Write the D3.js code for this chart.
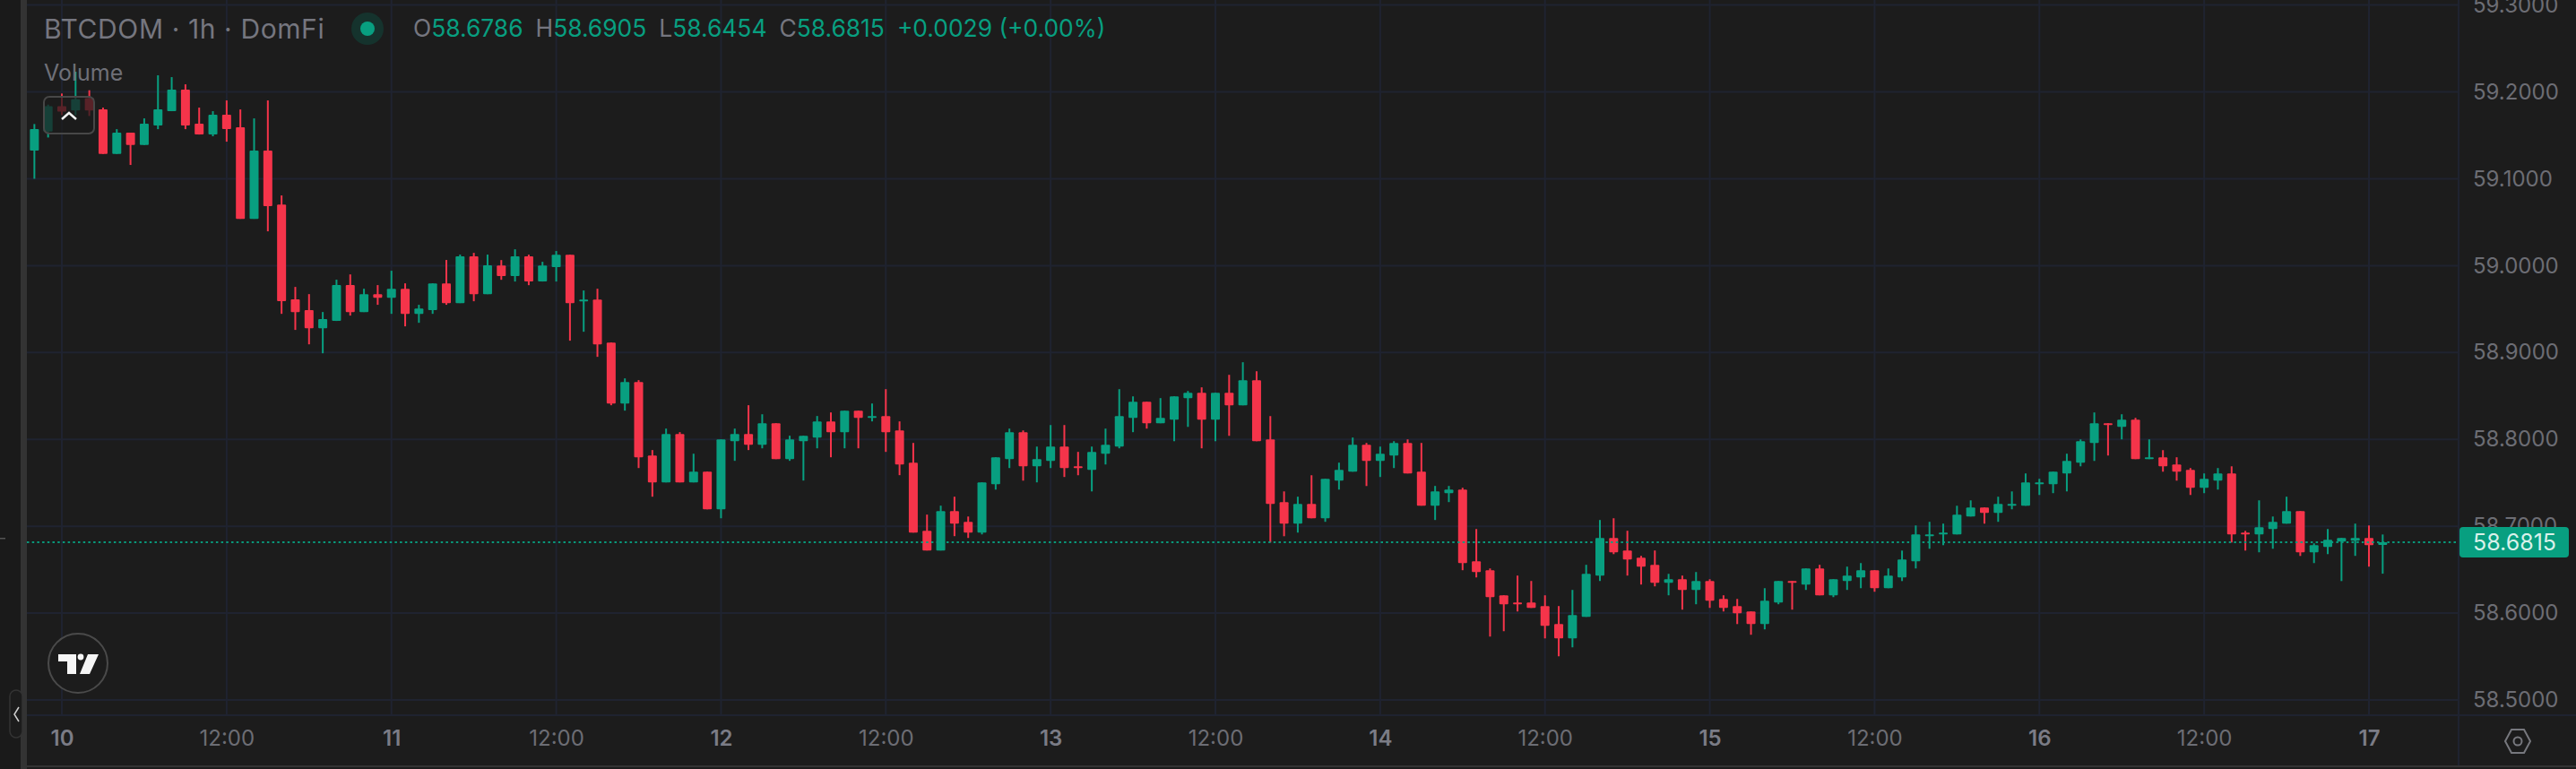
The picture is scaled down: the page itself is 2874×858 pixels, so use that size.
<!DOCTYPE html>
<html>
<head>
<meta charset="utf-8">
<script src="https://cdn.jsdelivr.net/npm/d3@7"></script>
<style>
html, body { margin: 0; padding: 0; background: #1c1c1c; overflow: hidden; }
svg { display: block; font-family: Inter, "Noto Sans", sans-serif; }
.axis .domain { display: none; }
.axis text { font-family: Inter, "Noto Sans", sans-serif; }
</style>
</head>
<body>
<svg width="2874" height="858"></svg>
<script>
// hourly candles, first one is 22:00 the day before the "10" tick
var opens = [
  59.1324,59.1544,59.1836,59.1785,59.1929,59.1798,59.1286,59.1530,59.1389,59.1613,
  59.1778,59.2025,59.1633,59.1509,59.1736,59.1592,59.0539,59.1324,59.0704,58.9611,
  58.9487,58.9280,58.9363,58.9776,58.9466,58.9672,58.9631,58.9734,58.9445,58.9487,
  58.9796,58.9569,59.0106,58.9672,59.0002,58.9879,59.0106,58.9817,58.9982,59.0126,
  58.9590,58.9610,58.9115,58.8413,58.8661,58.7815,58.7505,58.8062,58.7505,58.7629,
  58.7195,58.7980,58.8062,58.7938,58.8186,58.7773,58.7980,58.8021,58.8207,58.8083,
  58.8331,58.8248,58.8269,58.8104,58.7732,58.6948,58.6721,58.7175,58.7051,58.6927,
  58.7484,58.7773,58.8083,58.7690,58.7752,58.7917,58.7690,58.7649,58.7835,58.7917,
  58.8248,58.8433,58.8186,58.8227,58.8475,58.8537,58.8227,58.8537,58.8392,58.8681,
  58.8000,58.7278,58.7030,58.7257,58.7092,58.7525,58.7628,58.7938,58.7752,58.7814,
  58.7959,58.7629,58.7237,58.7381,58.7422,58.6597,58.6494,58.6205,58.6122,58.6122,
  58.6081,58.5874,58.5709,58.5957,58.6432,58.6865,58.6721,58.6638,58.6556,58.6349,
  58.6390,58.6267,58.6370,58.6163,58.6081,58.6019,58.5874,58.6122,58.6370,58.6329,
  58.6514,58.6205,58.6370,58.6411,58.6494,58.6287,58.6411,58.6596,58.6885,58.6906,
  58.6906,58.7112,58.7216,58.7154,58.7236,58.7236,58.7484,58.7484,58.7608,58.7732,
  58.7959,58.8186,58.8144,58.8227,58.7773,58.7794,58.7711,58.7649,58.7443,58.7525,
  58.7608,58.6927,58.6906,58.6968,58.7030,58.7174,58.6700,58.6762,58.6824,58.6834,58.6865,58.6786
];
var highs = [
  59.1630,59.1853,59.1981,59.2232,59.2019,59.1819,59.1571,59.1530,59.1695,59.2191,
  59.2170,59.2087,59.1819,59.1778,59.1902,59.1798,59.1695,59.1902,59.0808,58.9755,
  58.9672,58.9466,58.9838,58.9899,58.9734,58.9776,58.9941,58.9796,58.9549,58.9796,
  59.0065,59.0127,59.0147,59.0127,59.0064,59.0188,59.0126,59.0044,59.0168,59.0126,
  58.9714,58.9734,58.9115,58.8702,58.8682,58.7877,58.8124,58.8083,58.7835,58.7629,
  58.8000,58.8124,58.8393,58.8289,58.8186,58.8042,58.8042,58.8269,58.8310,58.8331,
  58.8331,58.8413,58.8578,58.8207,58.7959,58.7134,58.7237,58.7340,58.7112,58.7505,
  58.7794,58.8124,58.8103,58.7917,58.8165,58.8165,58.7856,58.7917,58.8124,58.8578,
  58.8495,58.8433,58.8475,58.8495,58.8557,58.8599,58.8537,58.8743,58.8888,58.8784,
  58.8268,58.7401,58.7340,58.7587,58.7546,58.7732,58.8021,58.7959,58.7917,58.7979,
  58.8000,58.7959,58.7464,58.7464,58.7443,58.6968,58.6514,58.6205,58.6432,58.6370,
  58.6205,58.6081,58.6267,58.6556,58.7072,58.7092,58.6948,58.6659,58.6721,58.6452,
  58.6432,58.6473,58.6390,58.6205,58.6163,58.6019,58.6287,58.6370,58.6370,58.6514,
  58.6556,58.6390,58.6535,58.6576,58.6494,58.6514,58.6720,58.7009,58.7051,58.7030,
  58.7236,58.7298,58.7216,58.7340,58.7401,58.7608,58.7546,58.7628,58.7835,58.8000,
  58.8310,58.8186,58.8289,58.8248,58.8000,58.7876,58.7794,58.7670,58.7608,58.7670,
  58.7690,58.6947,58.7298,58.7112,58.7340,58.7174,58.6803,58.6968,58.6865,58.7030,58.7009,58.6905
];
var lows = [
  59.1000,59.1475,59.1733,59.1733,59.1723,59.1286,59.1286,59.1159,59.1389,59.1571,
  59.1778,59.1571,59.1509,59.1489,59.1427,59.0539,59.0539,59.0395,58.9445,58.9260,
  58.9094,58.8991,58.9363,58.9425,58.9466,58.9549,58.9445,58.9301,58.9342,58.9445,
  58.9549,58.9569,58.9590,58.9672,58.9837,58.9817,58.9775,58.9817,58.9817,58.9136,
  58.9239,58.8950,58.8393,58.8331,58.7670,58.7340,58.7505,58.7505,58.7505,58.7195,
  58.7092,58.7753,58.7877,58.7897,58.7773,58.7753,58.7526,58.7897,58.7794,58.7897,
  58.7897,58.8207,58.7856,58.7588,58.6927,58.6721,58.6721,58.6886,58.6865,58.6906,
  58.7422,58.7670,58.7525,58.7505,58.7670,58.7567,58.7587,58.7401,58.7711,58.7897,
  58.8083,58.8124,58.8186,58.7979,58.8144,58.7897,58.7979,58.8041,58.8392,58.7979,
  58.6813,58.6885,58.6927,58.7092,58.7051,58.7422,58.7628,58.7463,58.7567,58.7670,
  58.7608,58.7237,58.7072,58.7278,58.6494,58.6411,58.5730,58.5792,58.6019,58.6060,
  58.5709,58.5503,58.5606,58.5957,58.6370,58.6679,58.6432,58.6329,58.6308,58.6205,
  58.6040,58.6102,58.6060,58.6019,58.5874,58.5751,58.5813,58.6102,58.6040,58.6267,
  58.6205,58.6184,58.6267,58.6287,58.6246,58.6287,58.6369,58.6514,58.6741,58.6782,
  58.6906,58.7112,58.7030,58.7051,58.7195,58.7236,58.7360,58.7381,58.7401,58.7690,
  58.7752,58.7814,58.8000,58.7773,58.7773,58.7628,58.7525,58.7360,58.7381,58.7422,
  58.6813,58.6720,58.6700,58.6741,58.7030,58.6658,58.6576,58.6679,58.6369,58.6659,58.6535,58.6454
];
var closes = [
  59.1571,59.1836,59.1774,59.1915,59.1785,59.1286,59.1530,59.1389,59.1633,59.1798,
  59.2025,59.1613,59.1509,59.1736,59.1571,59.0539,59.1324,59.0684,58.9590,58.9466,
  58.9280,58.9384,58.9776,58.9466,58.9672,58.9631,58.9734,58.9445,58.9507,58.9796,
  58.9569,59.0106,58.9672,59.0003,58.9879,59.0106,58.9817,59.0002,59.0126,58.9569,
  58.9610,58.9094,58.8413,58.8661,58.7794,58.7505,58.8062,58.7505,58.7629,58.7195,
  58.8000,58.8062,58.7938,58.8186,58.7773,58.8000,58.8042,58.8207,58.8083,58.8331,
  58.8248,58.8269,58.8083,58.7711,58.6927,58.6721,58.7175,58.7030,58.6927,58.7505,
  58.7794,58.8083,58.7690,58.7773,58.7917,58.7670,58.7670,58.7856,58.7938,58.8268,
  58.8433,58.8186,58.8248,58.8495,58.8537,58.8227,58.8537,58.8392,58.8681,58.7979,
  58.7257,58.7030,58.7257,58.7092,58.7546,58.7649,58.7938,58.7752,58.7835,58.7959,
  58.7608,58.7237,58.7402,58.7422,58.6576,58.6473,58.6184,58.6102,58.6102,58.6060,
  58.5854,58.5709,58.5978,58.6452,58.6865,58.6700,58.6618,58.6535,58.6349,58.6390,
  58.6267,58.6370,58.6143,58.6060,58.5998,58.5874,58.6143,58.6370,58.6349,58.6514,
  58.6205,58.6390,58.6432,58.6494,58.6287,58.6432,58.6617,58.6906,58.6906,58.6927,
  58.7133,58.7216,58.7154,58.7257,58.7257,58.7505,58.7505,58.7628,58.7752,58.7979,
  58.8186,58.8165,58.8227,58.7773,58.7794,58.7690,58.7628,58.7443,58.7546,58.7608,
  58.6906,58.6906,58.6989,58.7051,58.7174,58.6700,58.6782,58.6844,58.6865,58.6865,58.6783,58.6815
];
var priceTicks = [59.3, 59.2, 59.1, 59.0, 58.9, 58.8, 58.7, 58.6, 58.5];
var hourTicks = [0, 12, 24, 36, 48, 60, 72, 84, 96, 108, 120, 132, 144, 156, 168];
var hourLabels = ["10", "12:00", "11", "12:00", "12", "12:00", "13", "12:00", "14", "12:00", "15", "12:00", "16", "12:00", "17"];
var lastPrice = 58.6815;

var green = "#089f80", red = "#f5344a", grid = "#1f2330", labelGrey = "#6c6d74";

var svg = d3.select("svg"),
    left = 30, right = 2743, bottom = 798;

var x = d3.scaleLinear().domain([0, 168]).range([69, 2643]),
    y = d3.scaleLinear().domain([58.5, 59.3]).range([781, 5.6]);

// frame
svg.append("rect").attr("width", 23).attr("height", 858).attr("fill", "#1a1a1a");
svg.append("rect").attr("x", 23).attr("width", 7).attr("height", 858).attr("fill", "#333333");
svg.append("rect").attr("x", 23).attr("y", 854).attr("width", 2851).attr("height", 2).attr("fill", "#333333");

// price axis + horizontal grid
var yAxis = svg.append("g").attr("class", "axis axis--y")
    .attr("transform", "translate(" + right + ",0)")
    .call(d3.axisRight(y).tickValues(priceTicks).tickFormat(d3.format(".4f")).tickSize(0).tickPadding(16));
yAxis.selectAll("text").attr("font-size", 24).attr("fill", labelGrey);
svg.append("g").selectAll("line").data(priceTicks).enter().append("line")
    .attr("x1", left).attr("x2", right)
    .attr("y1", function(d) { return y(d); }).attr("y2", function(d) { return y(d); })
    .attr("stroke", grid).attr("stroke-width", 2);

// time axis + vertical grid
var xAxis = svg.append("g").attr("class", "axis axis--x")
    .attr("transform", "translate(0," + bottom + ")")
    .call(d3.axisBottom(x).tickValues(hourTicks)
        .tickFormat(function(d, i) { return hourLabels[i]; }).tickSize(0).tickPadding(17));
xAxis.selectAll("text")
    .attr("font-size", 24)
    .attr("font-weight", function(d) { return d % 24 == 0 ? 600 : 400; })
    .attr("fill", function(d) { return d % 24 == 0 ? "#7b7c86" : labelGrey; });
svg.append("g").selectAll("line").data(hourTicks).enter().append("line")
    .attr("x1", function(d) { return x(d); }).attr("x2", function(d) { return x(d); })
    .attr("y1", 0).attr("y2", bottom)
    .attr("stroke", grid).attr("stroke-width", 2);
svg.append("line").attr("x1", left).attr("x2", 2874).attr("y1", bottom).attr("y2", bottom)
    .attr("stroke", grid).attr("stroke-width", 2);
svg.append("line").attr("x1", right).attr("x2", right).attr("y1", 0).attr("y2", 854)
    .attr("stroke", grid).attr("stroke-width", 2);

// candles
var candles = opens.map(function(o, i) {
    return {hour: i - 2, o: o, h: highs[i], l: lows[i], c: closes[i]};
});
function color(d) { return d.c >= d.o ? green : red; }

var g = svg.append("g");
g.selectAll(".wick").data(candles).enter().append("rect")
    .attr("class", "wick")
    .attr("x", function(d) { return x(d.hour) - 1; })
    .attr("y", function(d) { return y(d.h); })
    .attr("width", 2)
    .attr("height", function(d) { return y(d.l) - y(d.h); })
    .attr("fill", color);
g.selectAll(".body").data(candles).enter().append("rect")
    .attr("class", "body")
    .attr("x", function(d) { return x(d.hour) - 5; })
    .attr("y", function(d) { return y(Math.max(d.o, d.c)); })
    .attr("width", 10)
    .attr("height", function(d) { return Math.max(2, Math.abs(y(d.o) - y(d.c))); })
    .attr("rx", 1)
    .attr("fill", color);

// last price line and tag
svg.append("line").attr("x1", left).attr("x2", right)
    .attr("y1", y(lastPrice)).attr("y2", y(lastPrice))
    .attr("stroke", green).attr("stroke-width", 2).attr("stroke-dasharray", "2.5 3.2").attr("opacity", 0.95);
svg.append("rect").attr("x", 2744).attr("y", y(lastPrice) - 17).attr("width", 122).attr("height", 34)
    .attr("rx", 4).attr("fill", green);
svg.append("text").attr("x", 2759).attr("y", y(lastPrice)).attr("dy", "0.36em")
    .attr("font-size", 25).attr("fill", "#d9f1ea").text(d3.format(".4f")(lastPrice));

// legend
svg.append("text").attr("x", 49).attr("y", 43).attr("font-size", 30).attr("letter-spacing", 0.6).attr("fill", "#75767f")
    .text("BTCDOM · 1h · DomFi");
svg.append("circle").attr("cx", 410).attr("cy", 32).attr("r", 18).attr("fill", "#15332d");
svg.append("circle").attr("cx", 410).attr("cy", 32).attr("r", 8).attr("fill", green);

var ohlc = svg.append("text").attr("x", 461).attr("y", 41).attr("font-size", 26.4);
[["O", 58.6786], ["H", 58.6905], ["L", 58.6454], ["C", 58.6815]].forEach(function(p, i) {
    ohlc.append("tspan").attr("dx", i ? 14 : 0).attr("fill", "#75767f").text(p[0]);
    ohlc.append("tspan").attr("fill", green).text(d3.format(".4f")(p[1]));
});
ohlc.append("tspan").attr("dx", 14).attr("fill", green).text("+0.0029 (+0.00%)");

svg.append("text").attr("x", 49).attr("y", 90).attr("font-size", 25).attr("fill", "#6f7078").text("Volume");

// collapse button over the candles
svg.append("rect").attr("x", 49).attr("y", 108).attr("width", 56).attr("height", 41).attr("rx", 6)
    .attr("fill", "#1c1c1c").attr("fill-opacity", 0.72).attr("stroke", "#474747").attr("stroke-width", 2);
svg.append("path").attr("d", "M69 133 L77 126 L85 133").attr("fill", "none")
    .attr("stroke", "#f2f2f2").attr("stroke-width", 2.5);

// logo
svg.append("circle").attr("cx", 87).attr("cy", 740).attr("r", 33).attr("fill", "#1c1c1c")
    .attr("stroke", "#4a4a4a").attr("stroke-width", 2);
svg.append("path").attr("fill", "#f5f5f5")
    .attr("d", "M65 730 H85 V752 H75 V738 H65 Z M98 730 H110 L100 752 H89 Z");
svg.append("circle").attr("cx", 90).attr("cy", 733).attr("r", 3.4).attr("fill", "#f5f5f5");

// sidebar toggle
svg.append("rect").attr("x", 11).attr("y", 770).attr("width", 14).attr("height", 53).attr("rx", 7)
    .attr("fill", "#1c1c1c").attr("stroke", "#333").attr("stroke-width", 1.5);
svg.append("path").attr("d", "M21 789 L16 797 L21 805").attr("fill", "none").attr("stroke", "#cfcfcf").attr("stroke-width", 1.5);
svg.append("rect").attr("x", 0).attr("y", 600).attr("width", 6).attr("height", 1.5).attr("fill", "#555");

// settings icon
svg.append("path").attr("d", "M2795 827 L2802 814 H2816 L2823 827 L2816 840 H2802 Z")
    .attr("fill", "none").attr("stroke", "#77787e").attr("stroke-width", 2);
svg.append("circle").attr("cx", 2809).attr("cy", 827).attr("r", 4.5)
    .attr("fill", "none").attr("stroke", "#77787e").attr("stroke-width", 2);
</script>
</body>
</html>
